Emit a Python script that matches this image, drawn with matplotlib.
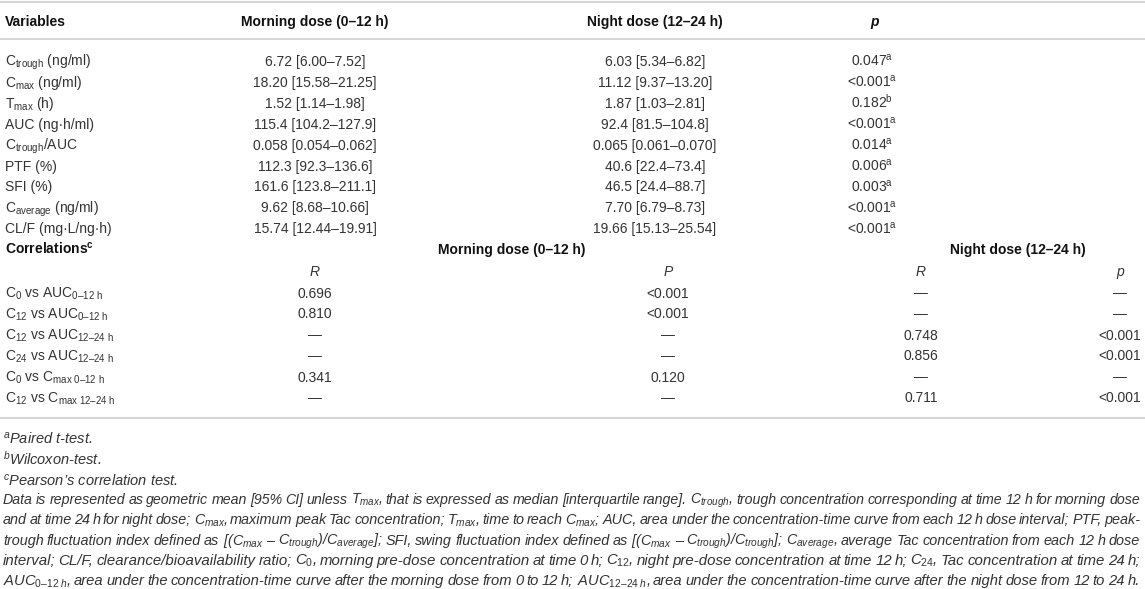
import matplotlib
matplotlib.use("Agg")
import matplotlib.pyplot as plt

plt.rcParams['font.family'] = ['Liberation Sans', 'DejaVu Sans']
plt.rcParams['mathtext.fontset'] = 'custom'
plt.rcParams['mathtext.rm'] = 'Liberation Sans'
plt.rcParams['mathtext.it'] = 'Liberation Sans:italic'
plt.rcParams['mathtext.bf'] = 'Liberation Sans:bold'

# ---- table data ----
variables = [r"C$_{\mathrm{trough}}$ (ng/ml)", r"C$_{\mathrm{max}}$ (ng/ml)", r"T$_{\mathrm{max}}$ (h)",
             "AUC (ng·h/ml)", r"C$_{\mathrm{trough}}$/AUC", "PTF (%)", "SFI (%)",
             r"C$_{\mathrm{average}}$ (ng/ml)", "CL/F (mg·L/ng·h)"]
morning = ["6.72 [6.00–7.52]", "18.20 [15.58–21.25]", "1.52 [1.14–1.98]", "115.4 [104.2–127.9]",
           "0.058 [0.054–0.062]", "112.3 [92.3–136.6]", "161.6 [123.8–211.1]",
           "9.62 [8.68–10.66]", "15.74 [12.44–19.91]"]
night = ["6.03 [5.34–6.82]", "11.12 [9.37–13.20]", "1.87 [1.03–2.81]", "92.4 [81.5–104.8]",
         "0.065 [0.061–0.070]", "40.6 [22.4–73.4]", "46.5 [24.4–88.7]",
         "7.70 [6.79–8.73]", "19.66 [15.13–25.54]"]
p_vals = ["0.047", "<0.001", "0.182", "<0.001", "0.014", "0.006", "0.003", "<0.001", "<0.001"]
p_tests = ["a", "a", "b", "a", "a", "a", "a", "a", "a"]

corr_labels = [r"C$_{\mathrm{0}}$ vs AUC$_{\mathrm{0–12\ h}}$",
               r"C$_{\mathrm{12}}$ vs AUC$_{\mathrm{0–12\ h}}$",
               r"C$_{\mathrm{12}}$ vs AUC$_{\mathrm{12–24\ h}}$",
               r"C$_{\mathrm{24}}$ vs AUC$_{\mathrm{12–24\ h}}$",
               r"C$_{\mathrm{0}}$ vs C$_{\mathrm{max\ 0–12\ h}}$",
               r"C$_{\mathrm{12}}$ vs C$_{\mathrm{max\ 12–24\ h}}$"]
morning_R = ["0.696", "0.810", "—", "—", "0.341", "—"]
morning_P = ["<0.001", "<0.001", "—", "—", "0.120", "—"]
night_R = ["—", "—", "0.748", "0.856", "—", "0.711"]
night_p = ["—", "—", "<0.001", "<0.001", "—", "<0.001"]

footnotes = [r"$^{a}$Paired t-test.", r"$^{b}$Wilcoxon-test.", r"$^{c}$Pearson’s correlation test."]
paragraph = [
    r"Data is represented as geometric mean [95% CI] unless $T_{max}$, that is expressed as median [interquartile range]. $C_{trough}$, trough concentration corresponding at time 12 h for morning dose",
    r"and at time 24 h for night dose; $C_{max}$, maximum peak Tac concentration; $T_{max}$, time to reach $C_{max}$; AUC, area under the concentration-time curve from each 12 h dose interval; PTF, peak-",
    r"trough fluctuation index defined as [($C_{max}$ – $C_{trough}$)/$C_{average}$]; SFI, swing fluctuation index defined as [($C_{max}$ – $C_{trough}$)/$C_{trough}$]; $C_{average}$, average Tac concentration from each 12 h dose",
    r"interval; CL/F, clearance/bioavailability ratio; $C_0$, morning pre-dose concentration at time 0 h; $C_{12}$, night pre-dose concentration at time 12 h; $C_{24}$, Tac concentration at time 24 h;",
    r"$AUC_{0–12\;h}$, area under the concentration-time curve after the morning dose from 0 to 12 h; $AUC_{12–24\;h}$, area under the concentration-time curve after the night dose from 12 to 24 h.",
]

FS = 10
body = '#333333'
head = '#111111'
rule = '#cfcfcf'

fig = plt.figure(figsize=(11.45, 5.89), dpi=100)
ax = fig.add_axes([0, 0, 1, 1])
ax.set_xlim(0, 1145)
ax.set_ylim(589, 0)
ax.axis('off')

def put(x, y, s, ha='center', **kw):
    kw.setdefault('color', body)
    kw.setdefault('fontsize', FS)
    ax.text(x, y + 5, s, ha=ha, va='baseline', **kw)

# rules
for yy in (1.5, 39, 418):
    ax.plot([0, 1145], [yy, yy], color=rule, lw=1.2, solid_capstyle='butt')

# header
put(5, 21, "Variables", ha='left', fontweight='bold', color=head)
put(315, 21, "Morning dose (0–12 h)", fontweight='bold', color=head)
put(655, 21, "Night dose (12–24 h)", fontweight='bold', color=head)
put(875, 21, "p", fontweight='bold', fontstyle='italic', color=head)

# pk rows
row_y = 61
step = 20.9
for i in range(len(variables)):
    y = row_y + i * step
    put(5, y, variables[i], ha='left')
    put(315, y, morning[i])
    put(655, y, night[i])
    put(872, y, p_vals[i] + r"$^{\mathrm{" + p_tests[i] + "}}$")

# correlations
y = row_y + len(variables) * step
put(5, y, r"Correlations$^{\mathbf{c}}$", ha='left', fontweight='bold', color=head)
put(512, y, "Morning dose (0–12 h)", fontweight='bold', color=head)
put(1018, y, "Night dose (12–24 h)", fontweight='bold', color=head)
y += step + 1
put(315, y, "R", fontstyle='italic')
put(668, y, "P", fontstyle='italic')
put(921, y, "R", fontstyle='italic')
put(1120, y, "p", fontstyle='italic')
y0 = y + 21.5
for i in range(len(corr_labels)):
    yy = y0 + i * 21
    put(5, yy, corr_labels[i], ha='left')
    put(315, yy, morning_R[i])
    put(668, yy, morning_P[i])
    put(921, yy, night_R[i])
    put(1120, yy, night_p[i])

# footnotes
fy = 439
for s in footnotes:
    put(3, fy, s, ha='left', fontstyle='italic', fontsize=10.5)
    fy += 20.9

# justified paragraph
renderer = fig.canvas.get_renderer()
fy = 500
for line in paragraph:
    words = line.split(' ')
    fs = 11.2
    while True:
        texts = [ax.text(0, fy + 4, w, ha='left', va='baseline', fontsize=fs,
                         fontstyle='italic', color=body) for w in words]
        widths = [t.get_window_extent(renderer).width for t in texts]
        gap = (1140 - 3 - sum(widths)) / (len(words) - 1)
        if gap >= 2.5 or fs < 8:
            break
        for t in texts:
            t.remove()
        fs -= 0.2
    x = 3
    for t, w in zip(texts, widths):
        t.set_x(x)
        x += w + gap
    fy += 20.3

fig.savefig("out.png", dpi=100)
